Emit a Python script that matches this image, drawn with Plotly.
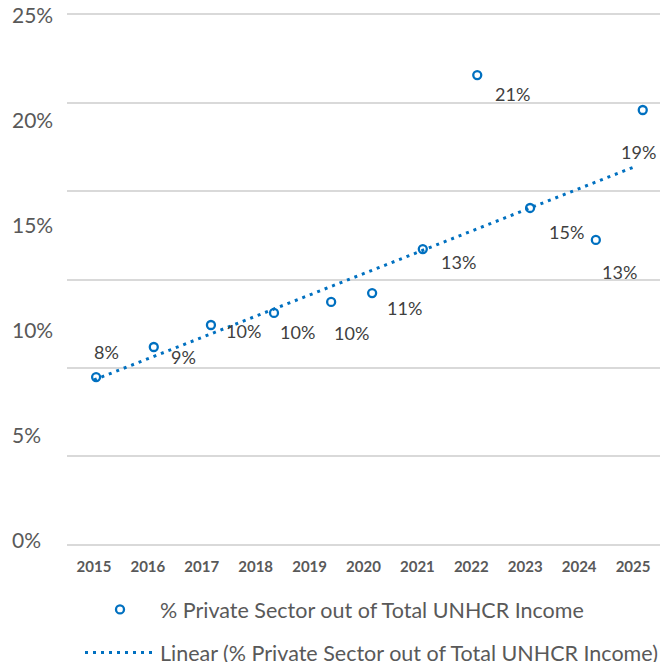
"""Private sector share of UNHCR income, 2015-2025, with linear trend."""

import plotly.graph_objects as go

BLUE = "#0070C0"
GRID = "#D9D9D9"
AXIS_TEXT = "#595959"
LABEL_TEXT = "#404040"
FONT = "Lato, 'Open Sans', sans-serif"

# data
years = [2015, 2016, 2017, 2018, 2019, 2020, 2021, 2022, 2023, 2024, 2025]
year_labels = [str(y) for y in years]
point_x = [2015.04, 2016.11, 2017.17, 2018.34, 2019.40, 2020.16,
           2021.10, 2022.11, 2023.09, 2024.31, 2025.18]
point_pct = [7.89, 9.31, 10.35, 10.92, 11.44, 11.86,
             13.94, 22.16, 15.88, 14.37, 20.51]
label_text = ["8%", "9%", "10%", "10%", "10%", "11%",
              "13%", "21%", "15%", "13%", "19%"]
trend_x = [2015, 2025]
trend_pct = [7.75, 17.8]
y_tick_vals = [0, 5, 10, 15, 20, 25]
# the gridlines split the 0-25% range in six, not at the labelled ticks
grid_vals = [0, 25 / 6, 50 / 6, 75 / 6, 100 / 6, 125 / 6, 25]

# label placement relative to each marker (screen px: right, down)
label_offsets = [(10, -25), (30, 10), (33, 6), (23, 19), (20, 31), (32, 15),
                 (36, 13), (35, 19), (36, 24), (24, 32), (-4, 42)]

PLOT_L, PLOT_R, PLOT_T, PLOT_B = 67, 660, 15, 544
PW, PH = PLOT_R - PLOT_L, PLOT_B - PLOT_T

fig = go.Figure()

fig.add_trace(
    go.Scatter(
        x=point_x,
        y=point_pct,
        mode="markers",
        name="% Private Sector out of Total UNHCR Income",
        legendgroup="a",
        marker=dict(symbol="circle-open", size=8, color=BLUE, line=dict(width=2.3, color=BLUE)),
    )
)
fig.add_trace(
    go.Scatter(
        x=trend_x,
        y=trend_pct,
        mode="lines",
        name="Linear (% Private Sector out of Total UNHCR Income)",
        legendgroup="b",
        line=dict(color=BLUE, width=3, dash="3px,5px"),
    )
)

for x, y, txt, (dx, dy) in zip(point_x, point_pct, label_text, label_offsets):
    fig.add_annotation(
        x=x, y=y, text=txt, showarrow=False,
        xshift=dx, yshift=-dy,
        font=dict(size=18, color=LABEL_TEXT, family=FONT),
    )

# y tick labels are left aligned in the original, so draw them as annotations
for v in y_tick_vals:
    fig.add_annotation(
        x=(10 - PLOT_L) / PW, xref="paper", xanchor="left",
        y=v, yref="y", yshift=5 - 4 * v / 25,
        text=f"{v}%", showarrow=False,
        font=dict(size=21, color=AXIS_TEXT, family=FONT),
    )

fig.update_layout(
    width=660,
    height=662,
    paper_bgcolor="white",
    plot_bgcolor="white",
    margin=dict(l=PLOT_L, r=660 - PLOT_R, t=PLOT_T, b=662 - PLOT_B, autoexpand=False),
    font=dict(family=FONT, color=AXIS_TEXT),
    showlegend=True,
    legend=dict(
        x=(80 - PLOT_L) / PW, y=(PLOT_B - 589) / PH,
        xanchor="left", yanchor="top",
        itemwidth=70,
        tracegroupgap=12,
        font=dict(size=21.5, color=AXIS_TEXT, family=FONT),
        bgcolor="rgba(0,0,0,0)",
    ),
)
fig.update_xaxes(
    range=[2014.5, 2025.5],
    tickvals=years,
    ticktext=year_labels,
    tickfont=dict(size=15, color=AXIS_TEXT, family=FONT, weight="bold"),
    ticks="outside", ticklen=8, tickcolor="rgba(0,0,0,0)",
    showgrid=False, zeroline=False,
    showline=True, mirror=True, linecolor=GRID, linewidth=2,
)
fig.update_yaxes(
    range=[0, 25],
    tickvals=grid_vals,
    showticklabels=False,
    showgrid=True, gridcolor=GRID, gridwidth=2,
    zeroline=False, showline=False,
)

fig.write_html(
    "out.html",
    config={"displayModeBar": False},
    post_script="document.body.style.margin='0';",
)
